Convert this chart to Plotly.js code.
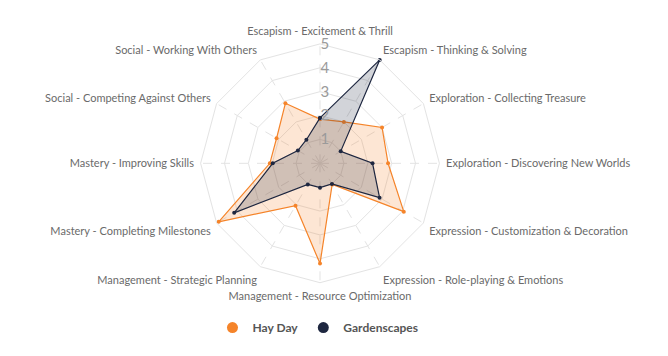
<!DOCTYPE html>
<html>
<head>
<meta charset="utf-8">
<script src="https://cdn.plot.ly/plotly-3.0.1.min.js"></script>
<style>html,body{margin:0;padding:0;background:#fff;}#chart{width:668px;height:356px;}</style>
</head>
<body>
<div id="chart"></div>
<script>
const categories = [
  "Escapism - Excitement & Thrill",
  "Escapism - Thinking & Solving",
  "Exploration - Collecting Treasure",
  "Exploration - Discovering New Worlds",
  "Expression - Customization & Decoration",
  "Expression - Role-playing & Emotions",
  "Management - Resource Optimization",
  "Management - Strategic Planning",
  "Mastery - Completing Milestones",
  "Mastery - Improving Skills",
  "Social - Competing Against Others",
  "Social - Working With Others"
];
const hayDay = [1.85, 2.0, 3.0, 2.85, 4.05, 1.02, 4.2, 2.05, 4.9, 2.1, 2.1, 2.9];
const gardenscapes = [1.9, 5.0, 1.0, 2.2, 2.88, 1.0, 1.02, 1.02, 4.15, 1.98, 1.07, 1.14];
const seriesNames = ["Hay Day", "Gardenscapes"];
const lineColors = ["#f5842a", "#1e2740"];
const fillColors = ["rgba(245,132,42,0.2)", "rgba(30,39,64,0.2)"];
const radialTicks = [1, 2, 3, 4, 5];

const close = a => a.concat([a[0]]);
const allSeries = [hayDay, gardenscapes];
const traces = [];
allSeries.forEach((vals, i) => {
  traces.push({
    type: 'scatterpolar',
    r: close(vals),
    theta: close(categories),
    mode: 'lines+markers',
    fill: 'toself',
    fillcolor: fillColors[i],
    line: {color: lineColors[i], width: 1.2},
    marker: {color: lineColors[i], size: 4},
    name: seriesNames[i],
    showlegend: false,
    hoverinfo: 'skip'
  });
});
seriesNames.forEach((n, i) => {
  traces.push({
    type: 'scatterpolar', r: [null], theta: [categories[0]],
    mode: 'markers', marker: {color: lineColors[i], size: 11},
    name: n, showlegend: true
  });
});

const labelFont = 'Lato, "DejaVu Sans Condensed", sans-serif';
const layout = {
  width: 668, height: 356,
  margin: {l: 0, r: 0, t: 0, b: 0},
  paper_bgcolor: '#fff',
  showlegend: true,
  legend: {orientation: 'h', x: 0.476, xanchor: 'center', y: 0.08, yanchor: 'middle',
           font: {family: labelFont, size: 12, color: '#555', weight: 'bold'}, itemwidth: 20, tracegroupgap: 0},
  polar: {
    domain: {x: [0.3003, 0.6578], y: [0.2059, 0.8767]},
    bgcolor: 'rgba(0,0,0,0)',
    gridshape: 'linear',
    angularaxis: {
      direction: 'clockwise', rotation: 90,
      showline: true, linecolor: '#e3e3e3', linewidth: 1,
      gridcolor: '#e3e3e3', griddash: 'dash',
      ticks: 'outside', ticklen: 4, tickcolor: 'rgba(0,0,0,0)',
      tickfont: {family: labelFont, size: 11, color: '#6a6a6a'}
    },
    radialaxis: {
      range: [0, 5], tickvals: radialTicks, angle: 90, tickangle: 90,
      showline: false, gridcolor: '#e3e3e3',
      ticks: '', tickfont: {family: labelFont, size: 15, color: '#9a9a9a'}
    }
  }
};
Plotly.newPlot('chart', traces, layout, {displayModeBar: false, staticPlot: true});
</script>
</body>
</html>
